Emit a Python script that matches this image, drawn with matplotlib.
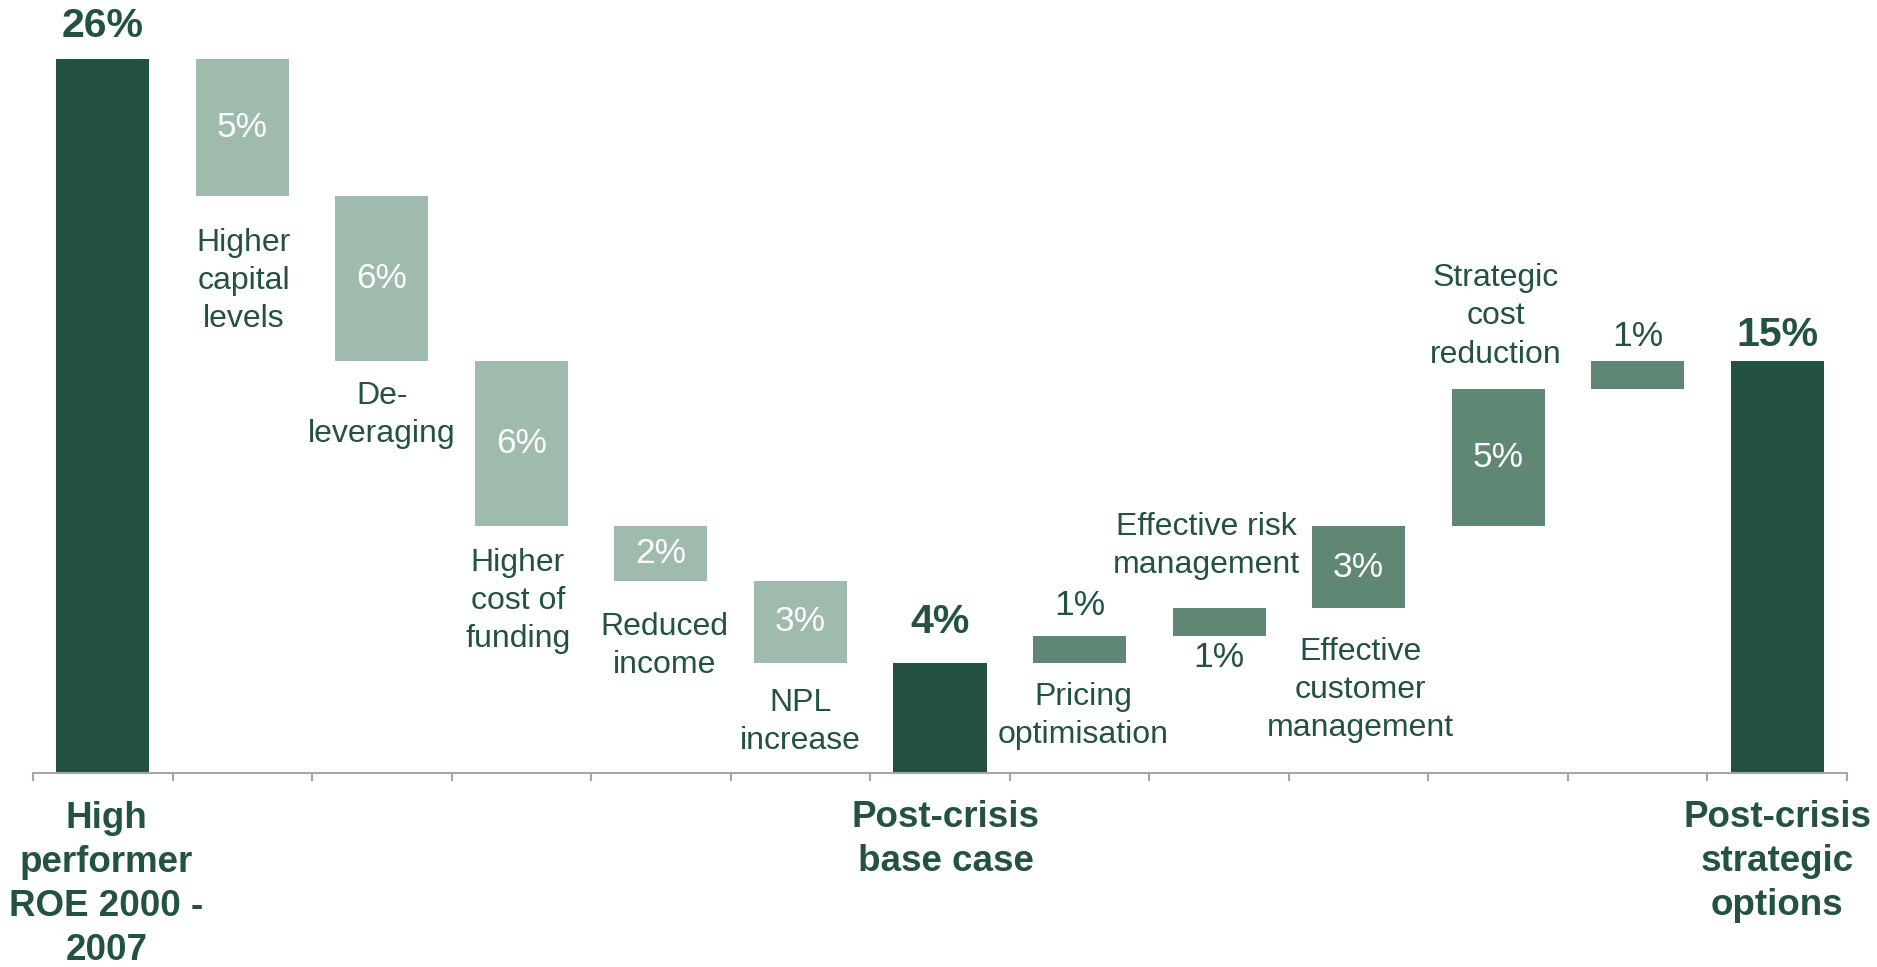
import matplotlib
matplotlib.use("Agg")
import matplotlib.pyplot as plt

plt.rcParams['font.family'] = ['Liberation Sans', 'DejaVu Sans']

# ROE bridge: starting level, drivers, intermediate total and end total (in %)
steps = ["start", "dec", "dec", "dec", "dec", "dec", "total",
         "inc", "inc", "inc", "inc", "inc", "total"]
values = [26, 5, 6, 6, 2, 3, 4, 1, 1, 3, 5, 1, 15]
driver_labels = ["", "Higher\ncapital\nlevels", "De-\nleveraging",
                 "Higher\ncost of\nfunding", "Reduced\nincome", "NPL\nincrease", "",
                 "Pricing\noptimisation", "Effective risk\nmanagement",
                 "Effective\ncustomer\nmanagement", "Strategic\ncost\nreduction", "", ""]
axis_labels = ["High\nperformer\nROE 2000 -\n2007", "", "", "", "", "",
               "Post-crisis\nbase case", "", "", "", "", "", "Post-crisis\nstrategic\noptions"]

DARK = "#235240"
LIGHT = "#9FBBAD"
MID = "#5F8773"
GREY = "#A6A6A6"

fig = plt.figure(figsize=(18.77, 9.67), dpi=100)
ax = fig.add_axes([33 / 1877, 194 / 967, (1847 - 33) / 1877, (773 - 59) / 967])

bottoms, tops = [], []
level = 0
for kind, v in zip(steps, values):
    if kind in ("start", "total"):
        b, t = 0, v
        level = v
    elif kind == "dec":
        b, t = level - v, level
        level -= v
    else:
        b, t = level, level + v
        level += v
    bottoms.append(b)
    tops.append(t)

colors = [DARK if k in ("start", "total") else LIGHT if k == "dec" else MID for k in steps]
x = list(range(len(values)))
ax.bar(x, [t - b for b, t in zip(bottoms, tops)], bottom=bottoms, width=0.667,
       color=colors, zorder=2)

ax.set_xlim(-0.5, len(values) - 0.5)
ax.set_ylim(0, 26)
for s in ("left", "right", "top"):
    ax.spines[s].set_visible(False)
ax.spines["bottom"].set_color(GREY)
ax.spines["bottom"].set_linewidth(1.5)
ax.set_yticks([])
ax.set_xticks([i - 0.5 for i in range(len(values) + 1)])
ax.set_xticklabels([])
ax.tick_params(axis="x", direction="out", length=6, width=1.5, color=GREY)

VAL_FS = 25.5
TXT_FS = 23
BOLD_VAL_FS = 29.5
BOLD_CAT_FS = 26.5

# where each value label goes: 'in' = centred in bar, ('up', pts) above top, ('down', pts) below bottom
value_pos = [("up", 23.5), "in", "in", "in", "in", "in", ("up", 29.5),
             ("up", 21.6), ("down", 16), "in", "in", ("up", 18), ("up", 18.7)]
# driver label offsets in points (dx, dy): negative dy below bar bottom, positive above bar top
driver_pos = [None, (1, -61), (0, -39), (-2.6, -54), (2.6, -47), (0, -42.5), None,
              (2.6, -38), (-9.4, 44.6), (1.5, -59), (-1.7, 52), None, None]

for i, (kind, v, b, t) in enumerate(zip(steps, values, bottoms, tops)):
    txt = f"{v}%"
    pos = value_pos[i]
    if pos == "in":
        ax.text(i, (b + t) / 2, txt, ha="center", va="center", color="white",
                fontsize=VAL_FS)
    else:
        where, off = pos
        bold = kind in ("start", "total")
        ax.annotate(txt, (i, t if where == "up" else b),
                    xytext=(0, off if where == "up" else -off), textcoords="offset points",
                    ha="center", va="center", color=DARK,
                    fontsize=BOLD_VAL_FS if bold else VAL_FS,
                    fontweight="bold" if bold else "normal", annotation_clip=False)
    if driver_labels[i]:
        dx, dy = driver_pos[i]
        ax.annotate(driver_labels[i], (i, t if dy > 0 else b), xytext=(dx, dy),
                    textcoords="offset points", ha="center", va="center", color=DARK,
                    fontsize=TXT_FS, linespacing=1.36, annotation_clip=False)

cat_off = {0: (2.6, -80.5), 6: (4.3, -48), 12: (0, -64)}
for i, lab in enumerate(axis_labels):
    if lab:
        ax.annotate(lab, (i, 0), xytext=cat_off[i], textcoords="offset points",
                    ha="center", va="center", color=DARK, fontsize=BOLD_CAT_FS,
                    fontweight="bold", linespacing=1.33, annotation_clip=False)

fig.savefig("out.png", dpi=100)
